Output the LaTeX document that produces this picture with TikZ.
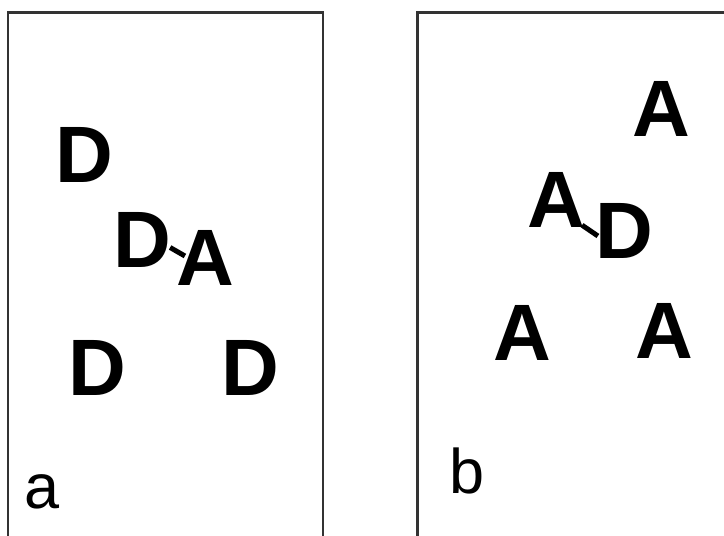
\documentclass[tikz,border=0pt]{standalone}
\usepackage{fontspec}
\setmainfont{Liberation Sans}
\usetikzlibrary{calc}
\definecolor{framegrey}{HTML}{333333}
\tikzset{
  atom/.style  = {font=\fontsize{80}{80}\selectfont\bfseries, inner sep=0pt, anchor=base},
  tag/.style   = {font=\fontsize{63}{63}\selectfont, inner sep=0pt, anchor=base},
  bond/.style  = {line width=5pt},
  panel/.style = {draw=framegrey, line width=2.2pt},
}

\begin{document}
\begin{tikzpicture}[x=1pt, y=-1pt]
  \clip (0,0) rectangle (724,536);
  \useasboundingbox (0,0) rectangle (724,536);
  % panel a
  \draw[panel] (8,12.5) rectangle (323,560);
  \node[atom] (d1) at (84,182) {D};
  \node[atom] (d2) at (142,267) {D};
  \node[atom] (a1) at (205,285) {A};
  \node[atom] (d3) at (97,395) {D};
  \node[atom] (d4) at (250,395) {D};
  \draw[bond] ($(d2.east)+(-1,8)$) -- ($(a1.west)+(9,-1.5)$);
  \node[tag] (ta) at (42.5,508) {a};
  % panel b
  \draw[panel] (417.5,12.5) rectangle (740,560);
  \node[atom] (a2) at (661,136) {A};
  \node[atom] (a3) at (556,227) {A};
  \node[atom] (d5) at (624,258) {D};
  \node[atom] (a4) at (522,360) {A};
  \node[atom] (a5) at (664,358) {A};
  \draw[bond] ($(a3.south east)+(-3,-2)$) -- ($(d5.west)+(3,5.5)$);
  \node[tag] (tb) at (467.5,493) {b};
\end{tikzpicture}
\end{document}
